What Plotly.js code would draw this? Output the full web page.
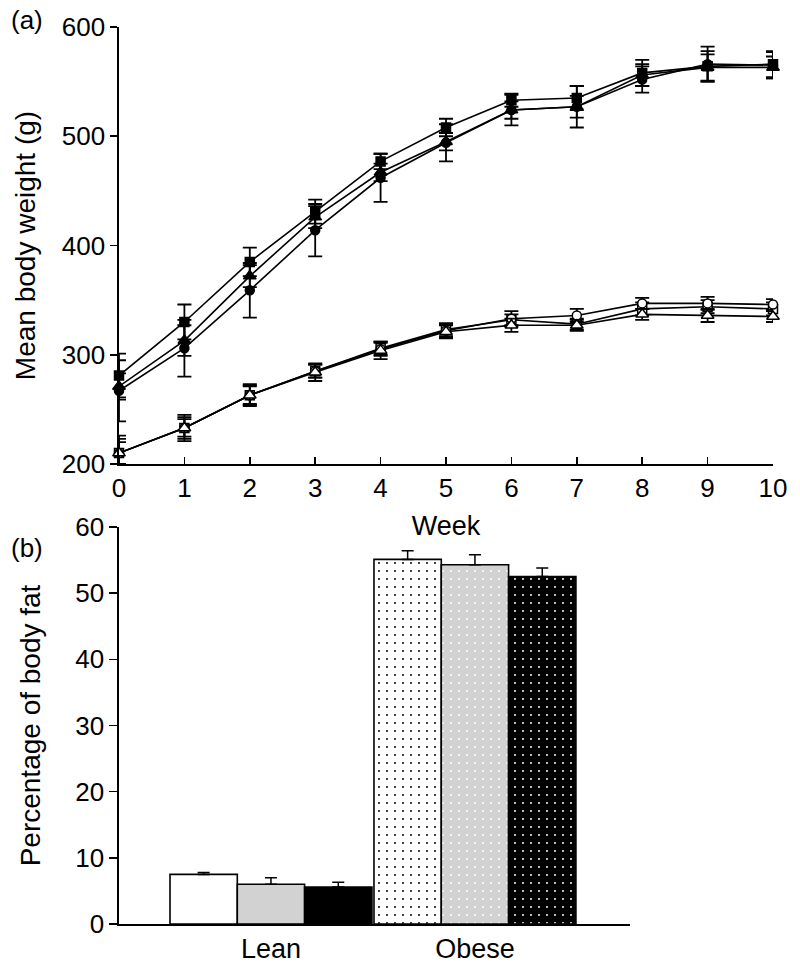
<!DOCTYPE html>
<html>
<head>
<meta charset="utf-8">
<script src="https://cdn.plot.ly/plotly-3.0.1.min.js"></script>
<style>html,body{margin:0;padding:0;background:#fff;}#chart{width:800px;height:969px;}</style>
</head>
<body>
<div id="chart"></div>
<script>
// ---- Panel (a): body weight over weeks ----
const weeks = [0, 1, 2, 3, 4, 5, 6, 7, 8, 9, 10];

const obeseSquare = [281, 330, 385, 431, 477, 508, 533, 535, 558, 564, 566];
const obeseSquareErr = [20, 16, 13, 11, 7, 8, 6, 11, 12, 14, 12];
const obeseTriangle = [271, 313, 372, 426, 467, 495, 524, 527, 556, 563, 563];
const obeseTriangleErr = [12, 14, 10, 10, 8, 8, 8, 10, 10, 12, 10];
const obeseCircle = [267, 306, 359, 414, 462, 494, 524, 527, 552, 566, 565];
const obeseCircleErr = [28, 26, 25, 24, 22, 17, 14, 19, 12, 16, 12];

const leanSquare = [210, 233, 263, 285, 306, 323, 332, 328, 342, 344, 342];
const leanSquareErr = [13, 8, 8, 6, 6, 6, 5, 5, 6, 6, 6];
const leanCircle = [210, 233, 263, 285, 305, 322, 333, 336, 347, 347, 346];
const leanCircleErr = [16, 10, 10, 6, 6, 6, 7, 6, 5, 6, 5];
const leanTriangle = [210, 233, 263, 284, 304, 321, 327, 327, 337, 336, 335];
const leanTriangleErr = [10, 12, 9, 8, 8, 6, 6, 5, 5, 6, 5];

// ---- Panel (b): body fat ----
const groups = ['Lean', 'Obese'];
const fatA = [7.5, 55.1];
const fatAErr = [0.3, 1.3];
const fatB = [6.0, 54.3];
const fatBErr = [1.0, 1.5];
const fatC = [5.6, 52.5];
const fatCErr = [0.7, 1.3];

const FONT = 'Liberation Sans, Arial, Helvetica, sans-serif';

function lineTrace(y, err, symbol, fill) {
  return {
    type: 'scatter', mode: 'lines+markers', x: weeks, y: y,
    xaxis: 'x', yaxis: 'y', cliponaxis: false, showlegend: false,
    line: {color: '#000', width: 1.6},
    marker: {symbol: symbol, size: symbol.indexOf('triangle') === 0 ? 11 : 9, color: fill, line: {color: '#000', width: 1.5}},
    error_y: {type: 'data', array: err, visible: true, color: '#000', thickness: 1.8, width: 7}
  };
}

const traces = [
  lineTrace(leanSquare, leanSquareErr, 'square', '#fff'),
  lineTrace(leanCircle, leanCircleErr, 'circle', '#fff'),
  lineTrace(leanTriangle, leanTriangleErr, 'triangle-up', '#fff'),
  lineTrace(obeseSquare, obeseSquareErr, 'square', '#000'),
  lineTrace(obeseTriangle, obeseTriangleErr, 'triangle-up', '#000'),
  lineTrace(obeseCircle, obeseCircleErr, 'circle', '#000')
];

function barTrace(y, err, color, dotColor) {
  return {
    type: 'bar', x: groups, y: y, xaxis: 'x2', yaxis: 'y2', showlegend: false,
    marker: {
      color: color, line: {color: '#000', width: 1.6},
      pattern: {shape: ['', '.'], fgcolor: dotColor, bgcolor: color, size: 8, solidity: 0.05, fillmode: 'replace'}
    },
    error_y: {type: 'data', symmetric: false, array: err, arrayminus: [0, 0], visible: true, color: '#000', thickness: 1.5, width: 6}
  };
}
traces.push(barTrace(fatA, fatAErr, '#ffffff', '#000000'));
traces.push(barTrace(fatB, fatBErr, '#d2d2d2', '#ffffff'));
traces.push(barTrace(fatC, fatCErr, '#000000', '#ffffff'));

const layout = {
  width: 800, height: 969,
  margin: {l: 119, r: 27, t: 27, b: 45},
  paper_bgcolor: '#fff', plot_bgcolor: '#fff',
  font: {family: FONT, size: 26, color: '#000'},
  barmode: 'group', bargap: 0.01, bargroupgap: 0,
  xaxis: {
    domain: [0, 1], anchor: 'y', range: [0, 10], tickmode: 'array', tickvals: weeks,
    showgrid: false, zeroline: false, showline: true, linecolor: '#000', linewidth: 1.6,
    ticks: 'inside', ticklen: 7, tickwidth: 1.6, tickcolor: '#000',
    tickfont: {family: FONT, size: 26},
    title: {text: 'Week', font: {family: FONT, size: 27}, standoff: 14}
  },
  yaxis: {
    domain: [0.5128, 1], anchor: 'x', range: [200, 600], tickvals: [200, 300, 400, 500, 600],
    showgrid: false, zeroline: false, showline: true, linecolor: '#000', linewidth: 1.6,
    ticks: 'outside', ticklen: 7, tickwidth: 1.6, tickcolor: '#000',
    tickfont: {family: FONT, size: 26},
    title: {text: 'Mean body weight (g)', font: {family: FONT, size: 28}, standoff: 18}
  },
  xaxis2: {
    domain: [0, 0.7813], anchor: 'y2', type: 'category', range: [-0.745, 1.76],
    showgrid: false, zeroline: false, showline: true, linecolor: '#000', linewidth: 1.6,
    ticks: '', tickfont: {family: FONT, size: 27}
  },
  yaxis2: {
    domain: [0, 0.4426], anchor: 'x2', range: [0, 60], tickvals: [0, 10, 20, 30, 40, 50, 60],
    showgrid: false, zeroline: false, showline: true, linecolor: '#000', linewidth: 1.6,
    ticks: 'outside', ticklen: 8, tickwidth: 1.6, tickcolor: '#000',
    tickfont: {family: FONT, size: 26},
    title: {text: 'Percentage of body fat', font: {family: FONT, size: 28}, standoff: 26}
  },
  annotations: [
    {text: '(a)', xref: 'paper', yref: 'paper', x: -0.168, y: 1.008, xanchor: 'left', yanchor: 'middle', showarrow: false, font: {family: FONT, size: 26}},
    {text: '(b)', xref: 'paper', yref: 'paper', x: -0.168, y: 0.419, xanchor: 'left', yanchor: 'middle', showarrow: false, font: {family: FONT, size: 26}}
  ]
};

Plotly.newPlot('chart', traces, layout, {displayModeBar: false, staticPlot: true});
</script>
</body>
</html>
